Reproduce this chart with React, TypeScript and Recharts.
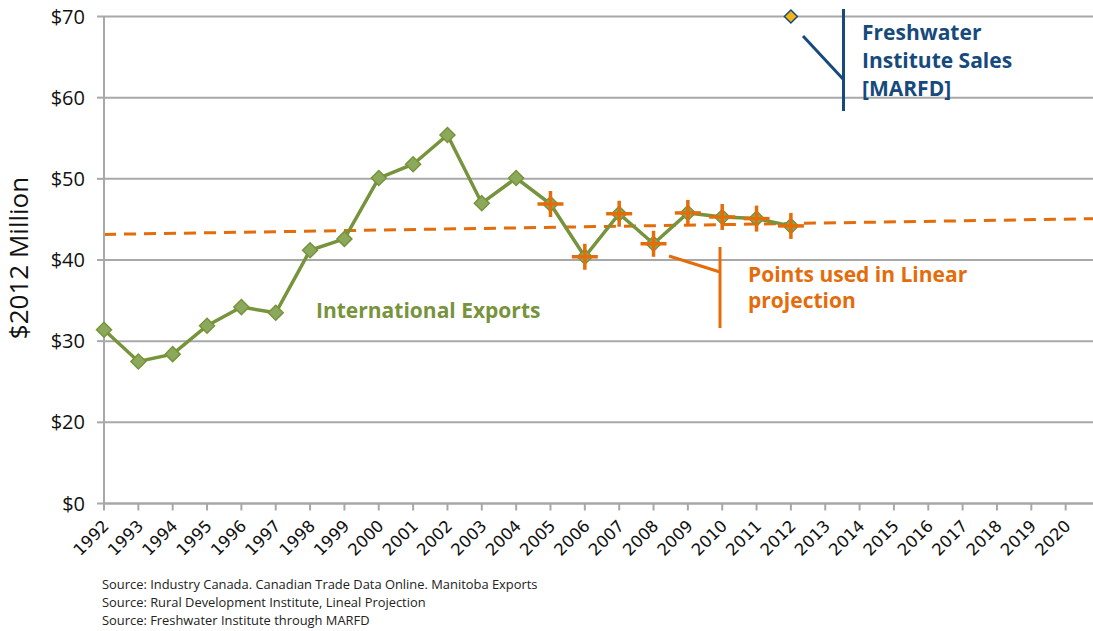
import { LineChart, Line, XAxis, YAxis, CartesianGrid } from 'recharts';

const years = [
  '1992', '1993', '1994', '1995', '1996', '1997', '1998', '1999', '2000', '2001',
  '2002', '2003', '2004', '2005', '2006', '2007', '2008', '2009', '2010', '2011',
  '2012', '2013', '2014', '2015', '2016', '2017', '2018', '2019', '2020', '2021',
];
// International exports, $2012 million, 1992–2012
const exportsM = [
  31.4, 27.5, 28.4, 31.9, 34.2, 33.5, 41.2, 42.6, 50.1, 51.8,
  55.4, 47.0, 50.1, 46.9, 40.4, 45.7, 42.0, 45.8, 45.3, 45.1, 44.2,
];
// points used in the linear projection, 2005–2012
const projStart = '2005';
const projValues = [46.9, 40.4, 45.7, 42.0, 45.8, 45.3, 45.1, 44.2];
// linear projection, read at its ends
const trendYears = ['1992', '2021'];
const trendValues = [43.15, 45.1];
const freshwaterYear = '2012';
const freshwaterValue = 70;

const yTicks = [10, 20, 30, 40, 50, 60, 70];
const yTickLabels = ['$0', '$20', '$30', '$40', '$50', '$60', '$70'];
const sources = [
  'Source: Industry Canada. Canadian Trade Data Online. Manitoba Exports',
  'Source: Rural Development Institute, Lineal Projection',
  'Source: Freshwater Institute through MARFD',
];

const GREEN = '#77933C';
const GREEN_FILL = '#8CA95B';
const ORANGE = '#E46C0A';
const BLUE = '#174A7C';
const GRID = '#A8A8A8';
const FONT = '"Open Sans", Lato, sans-serif';
const TICK_FONT = '"DejaVu Sans", Verdana, sans-serif';

const projIdx = years.indexOf(projStart);
const rows = years.map((year, i) => ({
  year,
  exports: i < exportsM.length ? exportsM[i] : null,
  projection: i >= projIdx && i < projIdx + projValues.length ? projValues[i - projIdx] : null,
  trend: trendYears.includes(year) ? trendValues[trendYears.indexOf(year)] : null,
  freshwater: year === freshwaterYear ? freshwaterValue : null,
}));

const Diamond = (props: any) => {
  const { cx, cy, index, value } = props;
  if (value == null || cx == null) return <g key={`d-${index}`} />;
  const r = 7.5;
  return (
    <path
      key={`d-${index}`}
      d={`M${cx},${cy - r}L${cx + r},${cy}L${cx},${cy + r}L${cx - r},${cy}Z`}
      fill={GREEN_FILL}
      stroke={GREEN}
      strokeWidth={1.5}
    />
  );
};

const Cross = (props: any) => {
  const { cx, cy, index, value } = props;
  if (value == null || cx == null) return <g key={`c-${index}`} />;
  const h = 13;
  return (
    <g key={`c-${index}`} stroke={ORANGE} strokeWidth={3.5}>
      <line x1={cx - h} y1={cy} x2={cx + h} y2={cy} />
      <line x1={cx} y1={cy - h} x2={cx} y2={cy + h} />
    </g>
  );
};

const GoldDiamond = (props: any) => {
  const { cx, cy, index, value } = props;
  if (value == null || cx == null) return <g key={`g-${index}`} />;
  const r = 6.5;
  return (
    <path
      key={`g-${index}`}
      d={`M${cx},${cy - r}L${cx + r},${cy}L${cx},${cy + r}L${cx - r},${cy}Z`}
      fill="#F2B517"
      stroke={BLUE}
      strokeWidth={1.5}
    />
  );
};

const YearTick = (props: any) => {
  const { x, y, payload } = props;
  if (payload?.value === '2021') return <g />;
  return (
    <g transform={`translate(${x - 2.3},${y + 7.2})`}>
      <text
        x={0}
        y={0}
        dy="0.71em"
        transform="rotate(-45)"
        textAnchor="end"
        fontSize={16.5}
        fontFamily={TICK_FONT}
        fill="#111"
      >
        {payload.value}
      </text>
    </g>
  );
};

export default function App() {
  return (
    <div
      style={{
        position: 'fixed',
        left: 0,
        top: 0,
        width: 1093,
        height: 631,
        overflow: 'hidden',
        background: '#fff',
        fontFamily: FONT,
      }}
    >
      <LineChart width={1110} height={631} data={rows} margin={{ top: 16.5, right: 10, bottom: 97.5, left: 0 }}>
        <CartesianGrid vertical={false} stroke={GRID} strokeWidth={2} />
        <XAxis
          dataKey="year"
          interval={0}
          tickSize={7}
          tickMargin={1}
          height={30}
          stroke={GRID}
          strokeWidth={2}
          tick={YearTick}
        />
        <YAxis
          width={104}
          domain={[10, 70]}
          ticks={yTicks}
          interval={0}
          tickSize={7}
          tickMargin={12}
          stroke={GRID}
          strokeWidth={2}
          tickFormatter={(v: number) => yTickLabels[yTicks.indexOf(v)] ?? ''}
          tick={{ fontSize: 20, fill: '#111', fontFamily: FONT }}
        />
        <Line
          dataKey="trend"
          stroke={ORANGE}
          strokeWidth={3}
          strokeDasharray="12 8"
          dot={false}
          connectNulls
          isAnimationActive={false}
        />
        <Line dataKey="exports" stroke={GREEN} strokeWidth={3.5} dot={Diamond} isAnimationActive={false} />
        <Line dataKey="projection" stroke="none" dot={Cross} isAnimationActive={false} />
        <Line dataKey="freshwater" stroke="none" dot={GoldDiamond} isAnimationActive={false} />
      </LineChart>
      <svg
        width={1093}
        height={631}
        style={{ position: 'absolute', left: 0, top: 0, pointerEvents: 'none' }}
        fontFamily={FONT}
      >
        <text
          x={18}
          y={258}
          transform="rotate(-90 18 258)"
          textAnchor="middle"
          dominantBaseline="central"
          fontSize={26}
          fill="#111"
        >
          $2012 Million
        </text>
        <text x={316} y={318} fontSize={21} fontWeight="bold" fill={GREEN}>
          International Exports
        </text>
        <line x1={669} y1={256} x2={720} y2={272} stroke={ORANGE} strokeWidth={3} />
        <line x1={720} y1={247} x2={720} y2={328} stroke={ORANGE} strokeWidth={3} />
        <text fontSize={21} fontWeight="bold" fill={ORANGE}>
          <tspan x={748} y={282}>Points used in Linear</tspan>
          <tspan x={748} y={308}>projection</tspan>
        </text>
        <line x1={803} y1={36} x2={843} y2={79} stroke={BLUE} strokeWidth={3} />
        <line x1={843.5} y1={9} x2={843.5} y2={111} stroke={BLUE} strokeWidth={3} />
        <text fontSize={21} fontWeight="bold" fill={BLUE}>
          <tspan x={862} y={40}>Freshwater</tspan>
          <tspan x={862} y={68}>Institute Sales</tspan>
          <tspan x={862} y={96}>[MARFD]</tspan>
        </text>
        <text fontSize={12.9} fill="#222">
          {sources.map((s, i) => (
            <tspan key={s} x={102} y={589 + i * 18}>
              {s}
            </tspan>
          ))}
        </text>
      </svg>
    </div>
  );
}
